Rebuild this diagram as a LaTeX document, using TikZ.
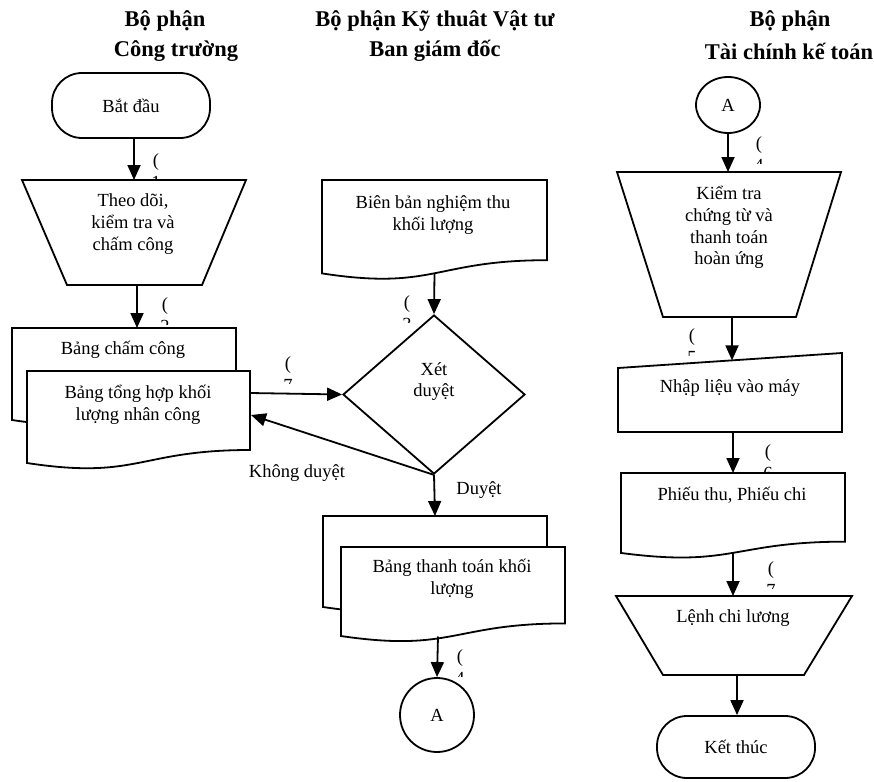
\documentclass[tikz,border=0pt]{standalone}
\usepackage{fontspec}
\setmainfont{Liberation Serif}
\usetikzlibrary{arrows.meta,calc,shapes.geometric}

\tikzset{
  outline/.style={draw=black, line width=1.8pt, fill=white, line join=miter},
  flow/.style={draw=black, line width=1.8pt, -{Triangle[length=15pt,width=13pt]}},
  body/.style={font=\fontsize{18.5}{21.7}\selectfont, align=center, inner sep=0pt},
  head/.style={font=\fontsize{22.5}{30}\selectfont\bfseries, align=center, inner sep=0pt},
  tag/.style={font=\fontsize{18.5}{21.7}\selectfont, inner sep=0pt, anchor=base},
  term/.style={outline, rectangle, rounded corners=30pt, minimum width=158pt,
    font=\fontsize{18.5}{21.7}\selectfont, inner sep=0pt},
  judge/.style={outline, diamond, minimum width=182pt, minimum height=159pt, inner sep=0pt},
  linkA/.style={outline, circle, minimum size=74pt, inner sep=0pt,
    font=\fontsize{18.5}{21.7}\selectfont},
  linkB/.style={outline, ellipse, minimum width=64pt, minimum height=56pt, inner sep=0pt,
    font=\fontsize{18.5}{21.7}\selectfont},
}

% document symbol: left x, top y, right x, height
\newcommand{\wavedoc}[4]{%
  \path[outline] (#1,#2) -- (#3,#2) -- (#3,{#2+0.802*#4})
    .. controls ({(#1+#3)/2},{#2+0.802*#4}) and ({(#1+#3)/2},{#2+1.107*#4}) ..
    (#1,{#2+0.934*#4}) -- cycle;}

% step number tag, cut off by its text box: name, x, centre y of "(", digit
\newcommand{\steptag}[4]{%
  \begin{scope}
    \clip ({#2-9},{#3-14}) rectangle ({#2+11},{#3+18});
    \node[tag] (#1) at (#2,{#3+4.6}) {(};
    \node[tag] (#1-n) at (#2,{#3+26.3}) {#4};
  \end{scope}}

\begin{document}
\begin{tikzpicture}[x=1pt,y=-1pt]
\useasboundingbox (0,0) rectangle (874,781);

% column headings
\node[head] (h1a) at (165,21) {Bộ phận};
\node[head] (h1b) at (176,51) {Công trường};
\node[head] (h2a) at (435,21) {Bộ phận Kỹ thuât Vật tư};
\node[head] (h2b) at (435,51) {Ban giám đốc};
\node[head] (h3a) at (790,21) {Bộ phận};
\node[head] (h3b) at (789,51) {Tài chính kế toán};

% ---- site department ----
\node[term, minimum height=65pt] (start) at (131,105.5) {Bắt đầu};
\path[outline] (22,180) -- (246,180) -- (202,285) -- (67,285) -- cycle;
\node[body] (track) at (133,224) {Theo dõi,\\kiểm tra và\\chấm công};
\coordinate (track-top) at (134,180);
\coordinate (track-bot) at (137,285);
\wavedoc{12}{328}{236}{98.5}
\node[body] (sheet) at (123,350) {Bảng chấm công};
\wavedoc{27}{371}{250}{98.5}
\node[body] (summary) at (138,404.5) {Bảng tổng hợp khối\\lượng nhân công};
\coordinate (sheet-top) at (137,328);
\coordinate (summary-out) at (250,393);
\coordinate (summary-back) at (251,415);

% ---- technical / management ----
\wavedoc{322}{180}{547}{100}
\node[body] (minutes) at (433,215) {Biên bản nghiệm thu\\khối lượng};
\coordinate (minutes-bot) at (434.5,273);
\node[judge] (judge) at (434,394.5) {};
\node[body] (judge-txt) at (434,381.5) {Xét\\duyệt};
\wavedoc{323}{516}{547}{97.4}
\wavedoc{341}{547}{565}{95.3}
\node[body] (payment) at (452,579) {Bảng thanh toán khối\\lượng};
\coordinate (pay-top) at (435,516);
\coordinate (pay-bot) at (438,636.5);
\node[linkA] (linkA) at (437,715) {A};
\node[body] (reject) at (297,473) {Không duyệt};
\node[body] (accept) at (479,490) {Duyệt};

% ---- accounting ----
\node[linkB] (linkB) at (728,105) {A};
\path[outline] (617,172) -- (841,172) -- (796,317) -- (663,317) -- cycle;
\node[body] (check) at (729,227.5) {Kiểm tra\\chứng từ và\\thanh toán\\hoàn ứng};
\coordinate (check-top) at (728,172);
\coordinate (check-bot) at (732,317);
\path[outline] (618,368) -- (842,353) -- (842,432) -- (618,432) -- cycle;
\node[body] (entry) at (730,388) {Nhập liệu vào máy};
\coordinate (entry-top) at (732,360.4);
\coordinate (entry-bot) at (733,432);
\wavedoc{621}{473}{845}{85.6}
\node[body] (voucher) at (732,495) {Phiếu thu, Phiếu chi};
\coordinate (voucher-top) at (733,473);
\coordinate (voucher-bot) at (733,552.8);
\path[outline] (616,596) -- (852,596) -- (804,675) -- (663,675) -- cycle;
\node[body] (order) at (733,618) {Lệnh chi lương};
\coordinate (order-top) at (733,596);
\coordinate (order-bot) at (737,675);
\node[term, minimum height=62pt] (finish) at (736,747) {Kết thúc};

% ---- connectors ----
\draw[flow] (start.south -| track-top) -- (track-top);
\draw[flow] (track-bot) -- (sheet-top);
\draw[flow] (summary-out) -- (judge.west);
\draw[flow] (judge.south) -- (summary-back);
\draw[flow] (minutes-bot) -- (judge.north);
\draw[flow] (judge.south) -- (pay-top);
\draw[flow] (pay-bot) -- (linkA.north);
\draw[flow] (linkB.south) -- (check-top);
\draw[flow] (check-bot) -- (entry-top);
\draw[flow] (entry-bot) -- (voucher-top);
\draw[flow] (voucher-bot) -- (order-top);
\draw[flow] (order-bot) -- (finish.north -| order-bot);

% ---- step numbers ----
\steptag{t1}{156}{162}{1}
\steptag{t2}{165}{306}{2}
\steptag{t7a}{288}{365}{7}
\steptag{t3}{407}{304}{3}
\steptag{t4a}{460}{658}{4}
\steptag{t4b}{759}{145}{4}
\steptag{t5}{692}{337}{5}
\steptag{t6}{768}{453}{6}
\steptag{t7b}{771}{570}{7}
\end{tikzpicture}
\end{document}
